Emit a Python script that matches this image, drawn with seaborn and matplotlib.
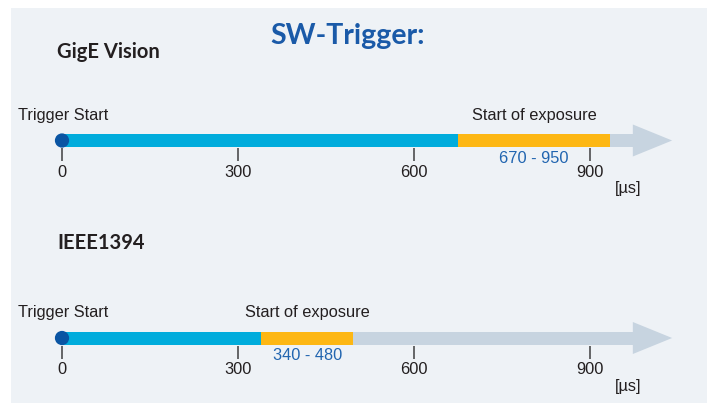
import matplotlib
matplotlib.use("Agg")
import matplotlib.pyplot as plt
from matplotlib.patches import Rectangle, Polygon
import seaborn as sns
import pandas as pd

# ---- data ----
interfaces = ["GigE Vision", "IEEE1394"]
tick_values = [0, 300, 600, 900]
trigger_start = [0, 0]
exposure_start = [675, 340]
exposure_end = [934, 496]
range_labels = ["670 - 950", "340 - 480"]
arrow_body_end = 973
arrow_tip = 1040
unit_label = "[µs]"
title = "SW-Trigger:"

# ---- style ----
sns.set_theme(style="white")
plt.rcParams['font.family'] = ['Liberation Sans', 'DejaVu Sans']

C_BG = "#eef2f6"
C_CYAN = "#00acdc"
C_ORANGE = "#fdb714"
C_GRAY = "#c7d4e0"
C_DOT = "#0a55a3"
C_TITLE = "#1a5aa8"
C_RANGE = "#2165b0"
C_TEXT = "#231f20"
FS = 11.8

W, H = 714, 403
fig = plt.figure(figsize=(W / 100, H / 100), dpi=100)
ax = fig.add_axes([0, 0, 1, 1])
px_per_us = (590 - 62) / 900
ax.set_xlim(-62 / px_per_us, (W - 62) / px_per_us)
ax.set_ylim(H, 0)
fig.patch.set_facecolor("white")
ax.add_patch(Rectangle((11 / W, 0), 696 / W, 395 / H, transform=ax.transAxes,
                       facecolor=C_BG, edgecolor="none", zorder=0))

bar_y = [140.5, 338]
name_y = [52, 243]
bar_h = 13
head_half = 16

fig.text(348 / W, 1 - 36 / H, title, ha="center", va="center", fontsize=20.5,
         fontweight="bold", color=C_TITLE, family=["Lato", "DejaVu Sans"])

for i, name in enumerate(interfaces):
    y = bar_y[i]
    # background arrow
    ax.barh(y, arrow_body_end - trigger_start[i], left=trigger_start[i], height=bar_h,
            color=C_GRAY, edgecolor="none", linewidth=0, zorder=1)
    ax.add_patch(Polygon([[arrow_body_end, y - head_half], [arrow_tip, y],
                          [arrow_body_end, y + head_half]], closed=True,
                         facecolor=C_GRAY, edgecolor="none", zorder=1))
    # delay segment
    ax.barh(y, exposure_start[i] - trigger_start[i], left=trigger_start[i], height=bar_h,
            color=C_CYAN, edgecolor="none", linewidth=0, zorder=2)
    # exposure segment
    ax.barh(y, exposure_end[i] - exposure_start[i], left=exposure_start[i], height=bar_h,
            color=C_ORANGE, edgecolor="none", linewidth=0, zorder=2)
    # ticks
    ax.vlines(tick_values, y + bar_h / 2 + 1, y + bar_h / 2 + 14, color="#4d4d4f",
              lw=1.2, zorder=1)
    for t in tick_values:
        ax.text(t, y + 32, str(t), ha="center", va="center", fontsize=FS, color=C_TEXT)
    ax.text((615 - 62) / px_per_us, y + 48, unit_label, ha="left", va="center",
            fontsize=FS, color=C_TEXT)
    # labels
    fig.text(57 / W, 1 - name_y[i] / H, name, ha="left", va="center", fontsize=14.5,
             fontweight="bold", color=C_TEXT, family=["Lato", "DejaVu Sans"])
    ax.text(-62 / px_per_us + 18 / px_per_us, y - 25, "Trigger Start", ha="left",
            va="center", fontsize=FS, color=C_TEXT)
    mid = (exposure_start[i] + exposure_end[i]) / 2
    ax.text(mid, y - 25, "Start of exposure", ha="center", va="center", fontsize=FS,
            color=C_TEXT)
    ax.text(mid, y + 18, range_labels[i], ha="center", va="center", fontsize=FS,
            color=C_RANGE)

dots = pd.DataFrame({"t": trigger_start, "y": bar_y})
sns.scatterplot(data=dots, x="t", y="y", s=105, color=C_DOT, edgecolor="none",
                ax=ax, zorder=4, legend=False)
ax.set_xlim(-62 / px_per_us, (W - 62) / px_per_us)
ax.set_ylim(H, 0)
ax.set_xlabel("")
ax.set_ylabel("")
ax.axis("off")

fig.savefig("out.png", dpi=100)
